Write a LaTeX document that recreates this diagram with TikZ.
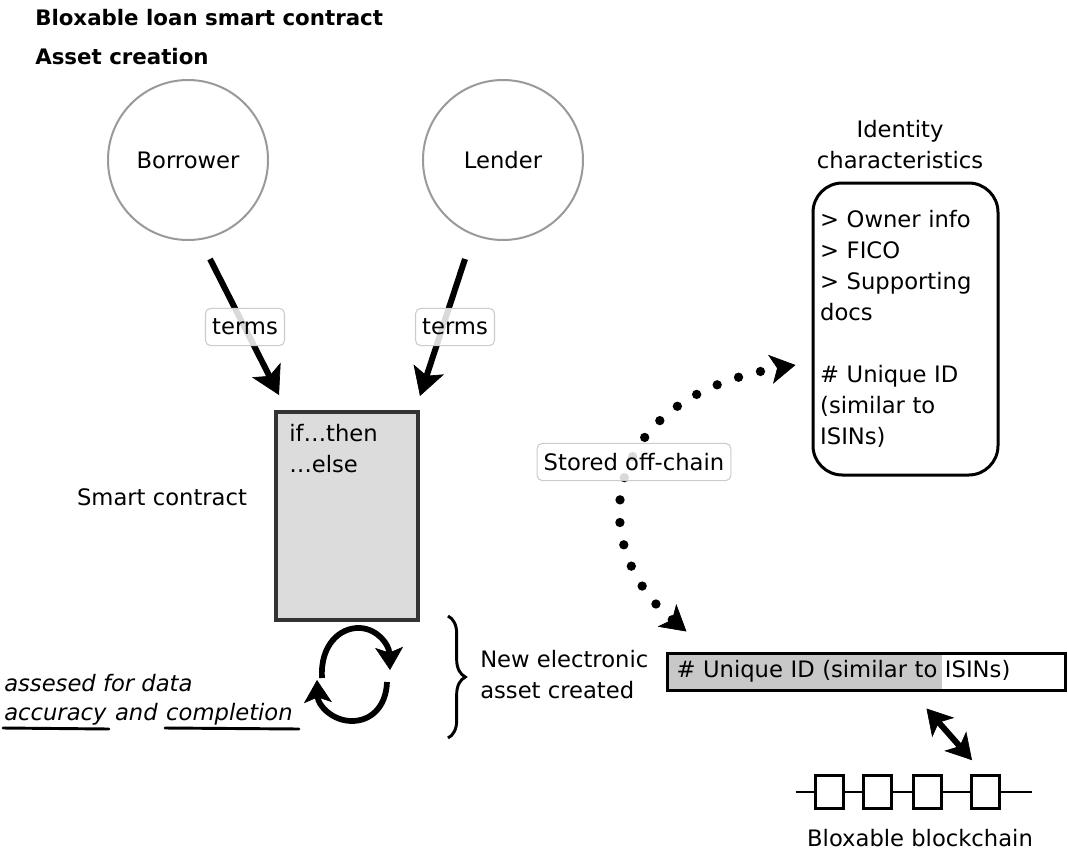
\documentclass[tikz,border=0pt]{standalone}
\usepackage{fontspec}
\setmainfont{DejaVu Sans}
\usetikzlibrary{arrows.meta,calc,decorations.pathreplacing}
\definecolor{scgray}{HTML}{DCDCDC}
\definecolor{uidgray}{HTML}{C8C8C8}
\definecolor{circgray}{HTML}{9A9A9A}
\definecolor{lblgray}{HTML}{CCCCCC}
\newcommand{\bodyfont}{\fontsize{17}{23.25}\selectfont}
\begin{document}
\begin{tikzpicture}[x=0.75pt,y=-0.75pt,
  font=\bodyfont,
  txt/.style={inner sep=0pt},
  ttl/.style={inner sep=0pt, anchor=west, font=\bfseries\fontsize{16}{19}\selectfont},
  itx/.style={inner sep=0pt, anchor=base west, font=\bodyfont\itshape},
  circ/.style={circle, draw=circgray, line width=1.5pt, minimum size=120pt},
  scbox/.style={draw=black!80, fill=scgray, line width=3pt, minimum width=106.5pt, minimum height=156pt},
  idbox/.style={draw, line width=2.25pt, rounded corners=22pt, minimum width=138.75pt, minimum height=219pt, text width=128pt, inner xsep=5pt, align=left},
  uidbar/.style={draw, line width=2.25pt, text width=285pt, inner xsep=6.4pt, minimum height=27.75pt, align=left,
     path picture={\fill[uidgray] (path picture bounding box.north west) rectangle ([xshift=205.5pt]path picture bounding box.south west);}},
  blk/.style={draw, line width=2.25pt, minimum width=21pt, minimum height=24.5pt, inner sep=0pt},
  chainline/.style={line width=1.5pt},
  lbl/.style={draw=lblgray, line width=0.8pt, fill=white, fill opacity=0.85, text opacity=1, rounded corners=4pt, inner xsep=5pt, minimum height=28pt},
  bigarrow/.style={line width=4.5pt, -{Stealth[length=21pt,width=24pt,inset=5pt,line width=0.5pt]}},
  dblarrow/.style={line width=4.5pt, {Stealth[length=19pt,width=22pt,inset=5pt,line width=0.5pt]}-{Stealth[length=19pt,width=22pt,inset=5pt,line width=0.5pt]}},
  cyc/.style={line width=4.3pt, -{Stealth[length=17pt,width=21pt,inset=4pt,line width=0.5pt]}},
  dotarrow/.style={line width=7pt, line cap=round, dash pattern=on 0pt off 17pt,
     {Stealth[length=19pt,width=22pt,inset=5pt,line width=0.5pt]}-{Stealth[length=19pt,width=22pt,inset=5pt,line width=0.5pt]}},
  uline/.style={line width=2.2pt, line cap=round},
  bracestyle/.style={line width=2.2pt, decorate, decoration={brace, amplitude=13pt}}
]
\useasboundingbox (0,0) rectangle (1068,857);
\fill[white] (0,0) rectangle (1068,857);

% titles
\node[ttl] (title) at (35,18) {Bloxable loan smart contract};
\node[ttl] (sub) at (35,57) {Asset creation};

% parties
\node[circ] (borrower) at (188,160) {Borrower};
\node[circ] (lender) at (503,160) {Lender};

% smart contract
\node[scbox] (sc) at (347,516) {};
\node[txt, anchor=north west, align=left] (code) at (289,424) {if…then\\…else};
\node[txt] (sclabel) at (162,497) {Smart contract};

% terms arrows
\draw[bigarrow] ($(borrower.south)+(22,18)$) -- ($(sc.north west)+(5,-15)$);
\draw[bigarrow] ($(lender.south)+(-38,18)$) -- ($(sc.north east)+(0,-14)$);
\node[lbl] (t1) at (245,327) {terms};
\node[lbl] (t2) at (455,327) {terms};

% cycle arrows
\draw[cyc] (322,678) .. controls (320,645) and (340,627) .. (360,628) .. controls (378,629) and (389,645) .. (390,670);
\draw[cyc] (387,682) .. controls (386,708) and (370,721) .. (352,721) .. controls (332,721) and (318,705) .. (317,680);

% assessed text
\node[itx] (l1) at (4,691) {assesed for data};
\node[itx] (acc) at (4,720) {accuracy};
\node[itx] (and) at ($(acc.base east)+(8,0)$) {and};
\node[itx] (comp) at ($(and.base east)+(8,0)$) {completion};
\draw[uline] ($(acc.base west)+(-1,8)$) -- ($(acc.base east)+(2,9)$);
\draw[uline] ($(comp.base west)+(-1,8)$) -- ($(comp.base east)+(6,9)$);

% brace
\draw[bracestyle] (448,616) -- (448,738);
\node[txt, anchor=west, align=left] (newasset) at (480,675) {New electronic\\asset created};

% identity
\node[txt, align=center] (idtitle) at (900,145) {Identity\\characteristics};
\node[idbox] (idbox) at (905.5,329) {> Owner info\\> FICO\\> Supporting\\docs\\[23.25pt]\# Unique ID\\(similar to\\ISINs)};

% unique id bar
\node[uidbar] (uid) at (866.5,671.5) {\# Unique ID (similar to ISINs)};

% stored off-chain
\draw[dotarrow] ($(uid.north west)+(20,-20)$) .. controls (588,550) and (592,400) .. ($(idbox.west)+(-16,36)$);
\node[lbl] (stored) at (634,462) {Stored off-chain};

% blockchain
\node[blk] (b1) at (829,792) {};
\node[blk] (b2) at (877,792) {};
\node[blk] (b3) at (927,792) {};
\node[blk] (b4) at (985,792) {};
\draw[chainline] ($(b1.west)+(-18,0)$) -- (b1.west);
\draw[chainline] (b1.east) -- (b2.west);
\draw[chainline] (b2.east) -- (b3.west);
\draw[chainline] (b3.east) -- (b4.west);
\draw[chainline] (b4.east) -- ($(b4.east)+(31,0)$);
\node[txt] (chainlbl) at (920,838) {Bloxable blockchain};

\draw[dblarrow] ($(uid.south west)+(260,17)$) -- ($(b4.north)+(-13,-14)$);
\end{tikzpicture}
\end{document}
